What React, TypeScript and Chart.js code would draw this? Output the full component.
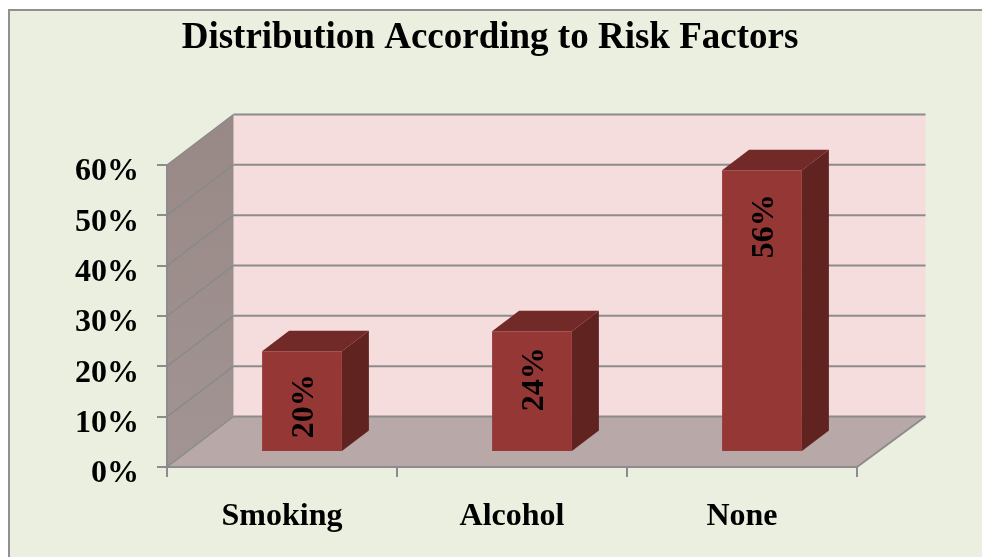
import React, { useEffect, useRef } from "react";
import { Chart, registerables } from "chart.js";

Chart.register(...registerables);

const categories = ["Smoking", "Alcohol", "None"];
const riskValues = [20, 24, 56];
const dataLabels = ["20%", "24%", "56%"];
const titleText = "Distribution According to Risk Factors";

const SERIF = '"Liberation Serif", "Times New Roman", serif';
const GRID = "#8c8c8c";

const walls3d = {
  id: "walls3d",
  beforeDraw(chart: any) {
    const { ctx, width, height } = chart;
    ctx.save();
    ctx.fillStyle = "#ffffff";
    ctx.fillRect(0, 0, width, height);
    ctx.fillStyle = "#ebefdf";
    ctx.fillRect(9, 10, width - 9, height - 10);
    ctx.strokeStyle = "#8f9090";
    ctx.lineWidth = 2;
    ctx.beginPath();
    ctx.moveTo(9, height);
    ctx.lineTo(9, 10);
    ctx.lineTo(width, 10);
    ctx.stroke();
    ctx.restore();
  },
  beforeDatasetsDraw(chart: any) {
    const { ctx, chartArea: a, scales } = chart;
    const dx = 66.5;
    const dy = -50.5;
    const backRight = a.right + 68.5;
    const y = scales.y;
    const poly = (pts: number[][], fill: any) => {
      ctx.beginPath();
      pts.forEach((p, i) => (i ? ctx.lineTo(p[0], p[1]) : ctx.moveTo(p[0], p[1])));
      ctx.closePath();
      ctx.fillStyle = fill;
      ctx.fill();
    };
    ctx.save();
    // back wall
    poly([[a.left + dx, a.top + dy], [backRight, a.top + dy], [backRight, a.bottom + dy], [a.left + dx, a.bottom + dy]], "#f5dddd");
    // side wall
    const sideFill = ctx.createLinearGradient(0, a.top + dy, 0, a.bottom);
    sideFill.addColorStop(0, "#988987");
    sideFill.addColorStop(1, "#a29492");
    poly([[a.left, a.top], [a.left + dx, a.top + dy], [a.left + dx, a.bottom + dy], [a.left, a.bottom]], sideFill);
    // floor
    poly([[a.left, a.bottom], [a.left + dx, a.bottom + dy], [backRight, a.bottom + dy], [a.right, a.bottom]], "#b8a8a7");
    // grid lines
    y.ticks.forEach((t: any) => {
      const py = y.getPixelForValue(t.value);
      ctx.strokeStyle = "#858a8a";
      ctx.lineWidth = 1.3;
      ctx.beginPath();
      ctx.moveTo(a.left, py);
      ctx.lineTo(a.left + dx, py + dy);
      ctx.stroke();
      ctx.strokeStyle = GRID;
      ctx.lineWidth = 2;
      ctx.beginPath();
      ctx.moveTo(a.left + dx, py + dy);
      ctx.lineTo(backRight, py + dy);
      ctx.stroke();
    });
    // floor right edge
    ctx.strokeStyle = GRID;
    ctx.lineWidth = 2;
    ctx.beginPath();
    ctx.moveTo(a.right, a.bottom);
    ctx.lineTo(backRight, a.bottom + dy);
    ctx.stroke();
    ctx.restore();
  },
  beforeDatasetDraw(chart: any, args: any) {
    const { ctx } = chart;
    const ox = 20;
    const oy = -15;
    const sx = 27;
    const sy = -20.5;
    ctx.save();
    ctx.translate(ox, oy);
    chart.getDatasetMeta(args.index).data.forEach((bar: any) => {
      const l = bar.x - bar.width / 2;
      const r = bar.x + bar.width / 2;
      ctx.fillStyle = "#712a27";
      ctx.beginPath();
      ctx.moveTo(l, bar.y);
      ctx.lineTo(l + sx, bar.y + sy);
      ctx.lineTo(r + sx, bar.y + sy);
      ctx.lineTo(r, bar.y);
      ctx.closePath();
      ctx.fill();
      ctx.fillStyle = "#612320";
      ctx.beginPath();
      ctx.moveTo(r, bar.y);
      ctx.lineTo(r + sx, bar.y + sy);
      ctx.lineTo(r + sx, bar.base + sy);
      ctx.lineTo(r, bar.base);
      ctx.closePath();
      ctx.fill();
    });
  },
  afterDatasetDraw(chart: any, args: any) {
    const { ctx } = chart;
    const labelDrop = [55, 48, 56];
    chart.getDatasetMeta(args.index).data.forEach((bar: any, i: number) => {
      ctx.save();
      ctx.translate(bar.x + 3, bar.y + labelDrop[i]);
      ctx.rotate(-Math.PI / 2);
      ctx.font = `bold 32px ${SERIF}`;
      ctx.fillStyle = "#000000";
      ctx.textAlign = "center";
      ctx.textBaseline = "middle";
      ctx.fillText(dataLabels[i], 0, 0);
      ctx.restore();
    });
    ctx.restore();
  },
};

export default function App() {
  const ref = useRef<HTMLCanvasElement>(null);
  useEffect(() => {
    const chart = new Chart(ref.current as HTMLCanvasElement, {
      type: "bar",
      plugins: [walls3d],
      data: {
        labels: categories,
        datasets: [
          {
            data: riskValues,
            backgroundColor: "#953735",
            borderWidth: 0,
            categoryPercentage: 1,
            barPercentage: 0.347,
          },
        ],
      },
      options: {
        responsive: false,
        animation: false,
        devicePixelRatio: 1,
        layout: { padding: { left: 0, right: 2, top: 0, bottom: 0 } },
        plugins: {
          legend: { display: false },
          tooltip: { enabled: false },
          title: {
            display: true,
            text: titleText,
            color: "#000000",
            font: { family: SERIF, size: 37, weight: "bold", lineHeight: 1.2 },
            padding: { top: 16.5, bottom: 104.1 },
          },
        },
        scales: {
          x: {
            type: "category",
            afterFit: (s: any) => {
              s.height = 90;
            },
            grid: {
              offset: true,
              drawOnChartArea: false,
              drawTicks: true,
              tickLength: 10,
              color: GRID,
              lineWidth: 2,
              z: 1,
            },
            border: { color: GRID, width: 2, z: 1 },
            ticks: {
              color: "#000000",
              padding: 21,
              maxRotation: 0,
              font: { family: SERIF, size: 32, weight: "bold" },
            },
          },
          y: {
            type: "linear",
            min: 0,
            max: 60,
            afterFit: (s: any) => {
              s.width = 167;
            },
            grid: {
              drawOnChartArea: false,
              drawTicks: true,
              tickLength: 10,
              color: GRID,
              lineWidth: 2,
              z: 1,
            },
            border: { color: GRID, width: 2, z: 1 },
            ticks: {
              stepSize: 10,
              color: "#000000",
              padding: 18,
              labelOffset: 7,
              callback: (v: any) => `${v}%`,
              font: { family: SERIF, size: 32, weight: "bold" },
            },
          },
          depthSpace: {
            type: "linear",
            position: "right",
            afterFit: (s: any) => {
              s.width = 123;
            },
            grid: { display: false },
            border: { display: false },
            ticks: { display: false },
          },
        },
      },
    } as any);
    return () => chart.destroy();
  }, []);
  return (
    <canvas
      ref={ref}
      width={982}
      height={557}
      style={{ position: "absolute", left: 0, top: 0, width: 982, height: 557 }}
    />
  );
}
